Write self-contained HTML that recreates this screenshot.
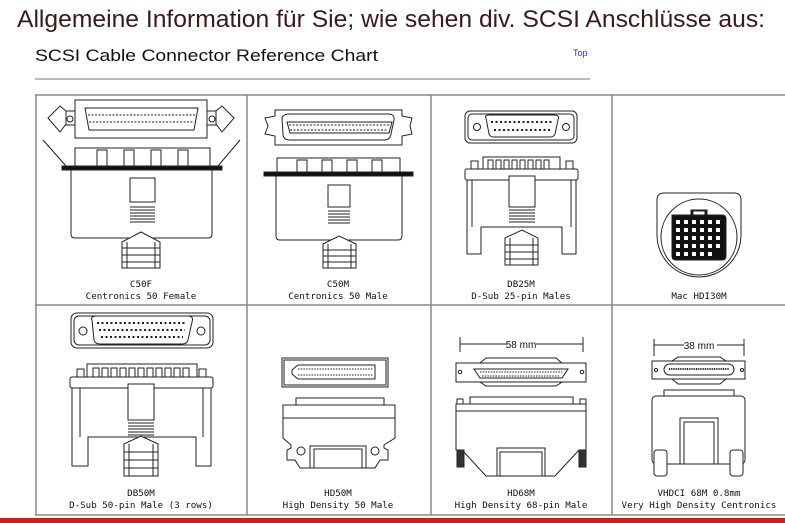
<!DOCTYPE html>
<html><head><meta charset="utf-8"><style>
html,body{margin:0;padding:0;background:#fff;width:785px;height:523px;overflow:hidden}
svg{display:block}
text{font-family:"DejaVu Sans Mono","Liberation Mono",monospace}
</style></head><body>
<svg width="785" height="523" viewBox="0 0 785 523" xmlns="http://www.w3.org/2000/svg">
<text x="17" y="27" style="font-family:'Liberation Sans',sans-serif" font-size="24" fill="#3a1a1a" textLength="748" lengthAdjust="spacingAndGlyphs">Allgemeine Information für Sie; wie sehen div. SCSI Anschlüsse aus:</text>
<text x="35" y="61" style="font-family:'Liberation Sans',sans-serif" font-size="17" fill="#111" textLength="343" lengthAdjust="spacingAndGlyphs">SCSI Cable Connector Reference Chart</text>
<text x="573" y="56" style="font-family:'Liberation Sans',sans-serif" font-size="9" fill="#1a3acc">Top</text>
<line x1="35" y1="79" x2="590" y2="79" stroke="#777" stroke-width="1"/>
<g stroke="#888" stroke-width="1.5" fill="none">
<line x1="35" y1="95" x2="785" y2="95"/>
<line x1="35" y1="305" x2="785" y2="305"/>
<line x1="35" y1="515" x2="785" y2="515"/>
<line x1="36" y1="95" x2="36" y2="515"/>
<line x1="247" y1="95" x2="247" y2="515"/>
<line x1="431" y1="95" x2="431" y2="515"/>
<line x1="612" y1="95" x2="612" y2="515"/>
</g>
<rect x="0" y="518" width="785" height="5" fill="#f01010"/>
<g font-size="9.2" fill="#111" text-anchor="middle">
<text x="141" y="287">C50F</text><text x="141" y="299">Centronics 50 Female</text>
<text x="338" y="287">C50M</text><text x="338" y="299">Centronics 50 Male</text>
<text x="521" y="287">DB25M</text><text x="521" y="299">D-Sub 25-pin Males</text>
<text x="699" y="299">Mac HDI30M</text>
<text x="141" y="496">DB50M</text><text x="141" y="508">D-Sub 50-pin Male (3 rows)</text>
<text x="338" y="496">HD50M</text><text x="338" y="508">High Density 50 Male</text>
<text x="521" y="496">HD68M</text><text x="521" y="508">High Density 68-pin Male</text>
<text x="699" y="496">VHDCI 68M 0.8mm</text><text x="699" y="508">Very High Density Centronics</text>
</g>
<g stroke="#222" stroke-width="1" fill="#fff">
<path d="M48,118 L60,106 L72,116 L60,132 Z"/><path d="M234,118 L222,106 L210,116 L222,132 Z"/>
<rect x="66" y="111" width="14" height="14"/><rect x="202" y="111" width="14" height="14"/>
<circle cx="70" cy="119" r="3"/><circle cx="212" cy="119" r="3"/>
<rect x="75" y="100" width="132" height="38"/>
<path d="M85,108 L198,108 L194,130 L89,130 Z"/>
<line x1="88" y1="115" x2="195" y2="115" stroke-dasharray="2,1.5"/>
<line x1="89" y1="122" x2="194" y2="122" stroke-dasharray="2,1.5"/>
<line x1="43" y1="140" x2="66" y2="166"/><line x1="240" y1="140" x2="218" y2="166"/>
<rect x="75" y="148" width="135" height="20"/>
<rect x="97" y="150" width="10" height="18"/><rect x="124" y="150" width="10" height="18"/><rect x="151" y="150" width="10" height="18"/><rect x="178" y="150" width="10" height="18"/>
<path d="M71,170 L212,170 L212,234 Q212,238 208,238 L75,238 Q71,238 71,234 Z"/>
<rect x="130" y="178" width="25" height="24"/>
<path d="M130,207 H155 M130,210 H155 M130,213 H155 M130,216 H155 M130,219 H155 M130,222 H155"/>
<path d="M122,242 L141,232 L160,242 L160,268 L122,268 Z"/>
<path d="M122,248 H160 M122,255 H160 M122,262 H160 M127,242 V268 M155,242 V268"/>
<rect x="62" y="166" width="160" height="4" fill="#111"/>
<path d="M265,118 L275,116 L275,110 L402,110 L402,116 L412,118 L410,126 L412,134 L402,136 L402,145 L275,145 L275,136 L265,134 L268,126 Z"/>
<path d="M282,118 Q283,114 290,114 L388,114 Q395,114 394,120 L391,134 Q390,140 384,140 L290,140 Q283,140 283,134 Z"/>
<path d="M287,122 L392,122 L389,133 L290,133 Z"/>
<line x1="289" y1="125" x2="389" y2="125" stroke-dasharray="2,1.5"/>
<line x1="290" y1="130" x2="388" y2="130" stroke-dasharray="2,1.5"/>
<rect x="277" y="158" width="123" height="16"/>
<rect x="297" y="160" width="10" height="14"/><rect x="322" y="160" width="10" height="14"/><rect x="347" y="160" width="10" height="14"/><rect x="372" y="160" width="10" height="14"/>
<path d="M276,176 L402,176 L402,236 Q402,240 398,240 L280,240 Q276,240 276,236 Z"/>
<rect x="328" y="185" width="22" height="22"/>
<path d="M328,211 H350 M328,214 H350 M328,217 H350 M328,220 H350 M328,223 H350"/>
<path d="M323,244 L339,236 L356,244 L356,268 L323,268 Z"/>
<path d="M323,250 H356 M323,256 H356 M323,262 H356 M328,244 V268 M351,244 V268"/>
<rect x="264" y="172" width="149" height="4" fill="#111"/>
<rect x="465" y="111" width="112" height="32" rx="5"/><rect x="468" y="114" width="106" height="26" rx="4"/>
<circle cx="477" cy="127" r="3.5"/><circle cx="566" cy="127" r="3.5"/>
<path d="M486,118 Q484,115 490,115 L554,115 Q560,115 558,120 L555,134 Q554,137 550,137 L494,137 Q490,137 489,134 Z"/>
<line x1="491" y1="122" x2="553" y2="122" stroke-width="2" stroke-dasharray="2,2.5"/>
<line x1="494" y1="130" x2="550" y2="130" stroke-width="2" stroke-dasharray="2,2.5"/>
<rect x="471" y="161" width="7" height="8"/><rect x="566" y="161" width="7" height="8"/>
<rect x="483" y="157" width="77" height="12"/>
<path d="M488,160 h5v9h-5z M496,160 h5v9h-5z M504,160 h5v9h-5z M512,160 h5v9h-5z M520,160 h5v9h-5z M528,160 h5v9h-5z M536,160 h5v9h-5z M544,160 h5v9h-5z"/>
<rect x="465" y="169" width="113" height="11" rx="2"/>
<path d="M467,180 V254 H481 V227 H562 V254 H576 V180 Z"/>
<line x1="472" y1="180" x2="472" y2="227"/><line x1="571" y1="180" x2="571" y2="227"/>
<rect x="509" y="176" width="26" height="31"/>
<path d="M509,210 H535 M509,213 H535 M509,216 H535 M509,219 H535 M509,222 H535"/>
<path d="M505,238 L522,230 L538,238 L538,265 L505,265 Z"/>
<path d="M505,245 H538 M505,252 H538 M505,259 H538 M510,238 V265 M533,238 V265"/>
<path d="M657,200 Q657,193 664,193 L734,193 Q741,193 741,200 L741,235 A42,42 0 0 1 657,235 Z"/>
<circle cx="699" cy="237" r="38"/>
<path d="M672,215 L691,215 L691,210 L707,210 L707,215 L722,215 Q726,215 726,219 L726,256 Q726,260 722,260 L676,260 Q672,260 672,256 Z" fill="#111"/>
<rect x="693" y="211" width="12" height="4" fill="#fff"/>
</g>
<g fill="#fff">
<path d="M676,220h4v4h-4zM684,220h4v4h-4zM692,220h4v4h-4zM700,220h4v4h-4zM708,220h4v4h-4zM716,220h4v4h-4z
M676,228h4v4h-4zM684,228h4v4h-4zM692,228h4v4h-4zM700,228h4v4h-4zM708,228h4v4h-4zM716,228h4v4h-4z
M676,236h4v4h-4zM684,236h4v4h-4zM692,236h4v4h-4zM700,236h4v4h-4zM708,236h4v4h-4zM716,236h4v4h-4z
M676,244h4v4h-4zM684,244h4v4h-4zM692,244h4v4h-4zM700,244h4v4h-4zM708,244h4v4h-4zM716,244h4v4h-4z
M676,252h4v4h-4zM684,252h4v4h-4zM692,252h4v4h-4zM700,252h4v4h-4zM708,252h4v4h-4z"/>
</g>
<g stroke="#222" stroke-width="1" fill="#fff">
<rect x="71" y="313" width="142" height="35" rx="6"/><rect x="74" y="316" width="136" height="29" rx="5"/>
<circle cx="83" cy="331" r="4"/><circle cx="201" cy="331" r="4"/>
<path d="M92,320 Q90,316 97,316 L188,316 Q194,316 192,322 L188,340 Q187,344 182,344 L100,344 Q95,344 94,340 Z"/>
<line x1="97" y1="323" x2="187" y2="323" stroke-width="2" stroke-dasharray="2,2.5"/>
<line x1="99" y1="330" x2="185" y2="330" stroke-width="2" stroke-dasharray="2,2.5"/>
<line x1="101" y1="337" x2="183" y2="337" stroke-width="2" stroke-dasharray="2,2.5"/>
<rect x="77" y="369" width="7" height="9"/><rect x="199" y="369" width="7" height="9"/>
<rect x="87" y="364" width="110" height="14"/>
<path d="M93,368h6v10h-6z M102,368h6v10h-6z M111,368h6v10h-6z M120,368h6v10h-6z M129,368h6v10h-6z M138,368h6v10h-6z M147,368h6v10h-6z M156,368h6v10h-6z M165,368h6v10h-6z M174,368h6v10h-6z M183,368h6v10h-6z"/>
<rect x="70" y="377" width="143" height="11" rx="2"/>
<path d="M72,388 V466 H88 V437 H196 V466 H211 V388 Z"/>
<line x1="80" y1="388" x2="80" y2="437"/><line x1="203" y1="388" x2="203" y2="437"/>
<rect x="128" y="384" width="26" height="36"/>
<path d="M128,423 H154 M128,426 H154 M128,429 H154 M128,432 H154 M128,435 H154"/>
<path d="M124,444 L141,436 L158,444 L158,476 L124,476 Z"/>
<path d="M124,452 H158 M124,460 H158 M124,468 H158 M129,444 V476 M153,444 V476"/>
<rect x="282" y="358" width="106" height="29"/><rect x="284" y="360" width="102" height="25"/>
<path d="M298,365 L375,365 L375,379 L298,379 L292,374 L292,370 Z"/>
<line x1="298" y1="369" x2="373" y2="369" stroke-dasharray="1.5,1.2"/>
<line x1="298" y1="375" x2="373" y2="375" stroke-dasharray="1.5,1.2"/>
<rect x="296" y="398" width="88" height="7"/>
<path d="M283,405 L395,405 L395,438 L384,445 L384,448 L388,450 L388,460 L380,460 L375,468 L300,468 L295,460 L287,460 L287,450 L291,448 L291,445 L283,438 Z"/>
<line x1="283" y1="418" x2="395" y2="418"/>
<circle cx="301" cy="451" r="4"/><circle cx="375" cy="451" r="4"/>
<rect x="310" y="446" width="56" height="22"/><rect x="314" y="449" width="48" height="19"/>
<path d="M460,337 V352 M460,344 H507 M536,344 H583 M583,337 V352"/>
<rect x="456" y="363" width="130" height="19"/>
<path d="M486,358 L556,358 L562,363 L480,363 Z M480,382 L562,382 L556,386 L486,386 Z"/>
<path d="M474,369 L568,369 L562,378 L480,378 Z"/>
<line x1="480" y1="372" x2="562" y2="372" stroke-dasharray="1.5,1.2"/>
<line x1="482" y1="376" x2="560" y2="376" stroke-dasharray="1.5,1.2"/>
<circle cx="460" cy="372" r="1.8"/><circle cx="582" cy="372" r="1.8"/>
<rect x="470" y="397" width="103" height="7"/>
<rect x="457" y="399" width="6" height="5"/><rect x="580" y="399" width="6" height="5"/>
<path d="M456,404 L586,404 L586,450 L579,450 L555,476 L486,476 L462,450 L456,450 Z"/>
<line x1="456" y1="411" x2="586" y2="411"/>
<rect x="457" y="450" width="7" height="17" fill="#333"/><rect x="579" y="450" width="7" height="17" fill="#333"/>
<rect x="497" y="448" width="48" height="28"/><rect x="500" y="452" width="42" height="24"/>
<path d="M654,339 V356 M654,345 H684 M717,345 H744 M744,339 V356"/>
<rect x="652" y="361" width="93" height="18"/>
<path d="M678,357 L720,357 L726,361 L672,361 Z M672,379 L726,379 L720,384 L678,384 Z"/>
<rect x="664" y="364" width="70" height="11" rx="5.5"/>
<line x1="669" y1="369" x2="729" y2="369" stroke-width="2" stroke-dasharray="1,0.8"/>
<circle cx="656" cy="370" r="1.5"/><circle cx="742" cy="370" r="1.5"/>
<rect x="664" y="390" width="70" height="6"/>
<rect x="652" y="396" width="93" height="68" rx="4"/>
<rect x="680" y="418" width="38" height="46"/><rect x="684" y="422" width="30" height="42"/>
<rect x="654" y="450" width="13" height="26" rx="3"/><rect x="730" y="450" width="13" height="26" rx="3"/>
</g>
<g font-size="10" fill="#111" text-anchor="middle">
<text x="521" y="348" style="font-family:'Liberation Sans',sans-serif">58 mm</text>
<text x="699" y="349" style="font-family:'Liberation Sans',sans-serif">38 mm</text>
</g>
</svg>
</body></html>
